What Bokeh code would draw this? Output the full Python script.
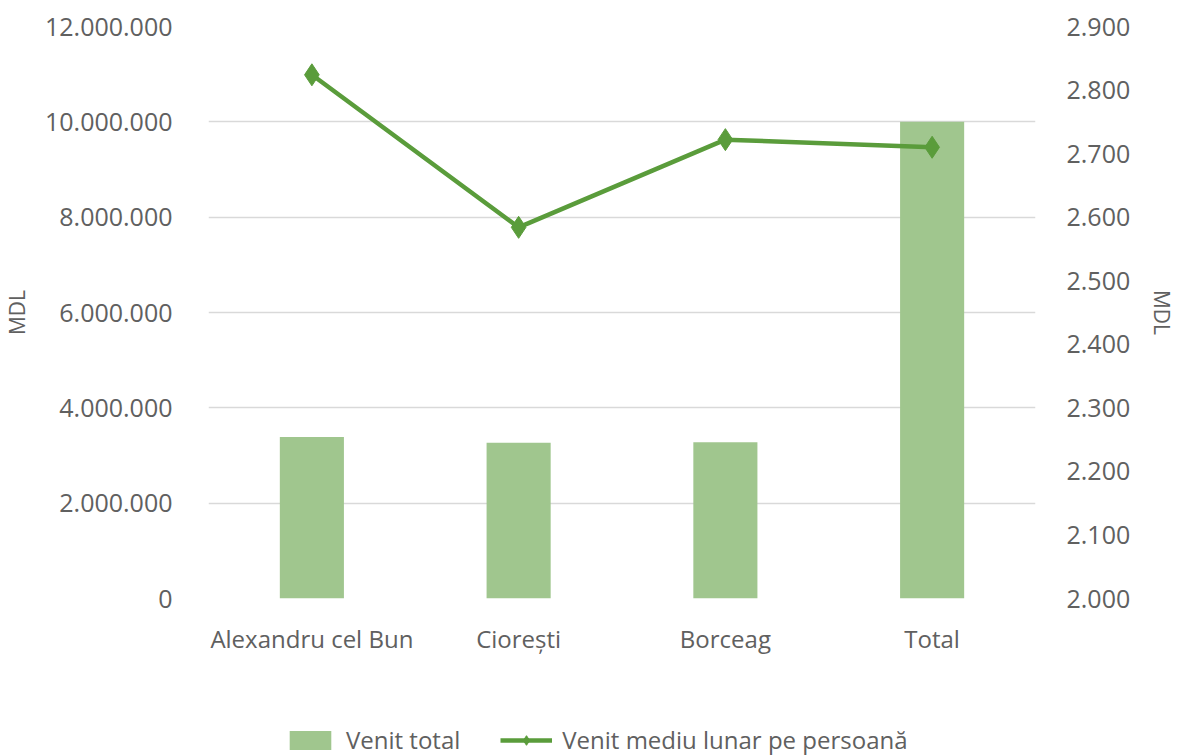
from bokeh.plotting import figure
from bokeh.layouts import column
from bokeh.models import (Range1d, LinearAxis, FactorRange, CustomJSTickFormatter,
                          Legend, LegendItem, ColumnDataSource, FixedTicker)
from bokeh.embed import file_html
from bokeh.resources import INLINE

categories = ["Alexandru cel Bun", "Ciorești", "Borceag", "Total"]
venit_total = [3390000, 3270000, 3280000, 10000000]
venit_mediu = [2824, 2584, 2722, 2710]

left_ticks = [0, 2000000, 4000000, 6000000, 8000000, 10000000, 12000000]
right_ticks = [2000, 2100, 2200, 2300, 2400, 2500, 2600, 2700, 2800, 2900]
series_names = ["Venit total", "Venit mediu lunar pe persoană"]

BAR = "#a0c68e"
LINE = "#5a9c3b"
TXT = "#606060"
FONT = "Open Sans"

src = ColumnDataSource(dict(cat=categories, total=venit_total, mediu=venit_mediu))

p = figure(width=1179, height=722, x_range=FactorRange(*categories, range_padding=0),
           y_range=Range1d(0, 12000000), output_backend="svg", toolbar_location=None,
           min_border_left=208, min_border_right=144, min_border_top=26, min_border_bottom=124)
p.x_range.range_padding = 0
p.extra_y_ranges = {"right": Range1d(2000, 2900)}
p.outline_line_color = None
p.background_fill_color = "white"
p.border_fill_color = "white"

fmt = CustomJSTickFormatter(code="""
return Math.round(tick).toString().replace(/\\B(?=(\\d{3})+(?!\\d))/g, ".");
""")

bars = p.vbar(x="cat", top="total", width=0.31, source=src, fill_color=BAR, line_color=None)
ln = p.line(x="cat", y="mediu", source=src, line_color=LINE, line_width=4.5, y_range_name="right")
mk = p.scatter(x="cat", y="mediu", source=src, marker="diamond", size=22,
               fill_color=LINE, line_color=LINE, y_range_name="right")

ya = p.yaxis[0]
ya.ticker = FixedTicker(ticks=left_ticks)
ya.formatter = fmt
ya.axis_label = "MDL"

ra = LinearAxis(y_range_name="right", ticker=FixedTicker(ticks=right_ticks), formatter=fmt,
                axis_label="MDL")
p.add_layout(ra, "right")

for ax in [ya, ra, p.xaxis[0]]:
    ax.axis_line_color = None
    ax.major_tick_line_color = None
    ax.minor_tick_line_color = None
    ax.major_label_text_font = FONT
    ax.major_label_text_font_size = "25px"
    ax.major_label_text_color = TXT
    ax.axis_label_text_font = FONT
    ax.axis_label_text_font_size = "21px"
    ax.axis_label_text_font_style = "normal"
    ax.axis_label_text_color = TXT

p.xaxis[0].major_label_text_font_size = "24px"
ya.major_label_standoff = 30
ya.axis_label_standoff = 11
ra.major_label_standoff = 25
ra.axis_label_standoff = 15
p.xaxis[0].major_label_standoff = 17

p.xgrid.grid_line_color = None
p.ygrid.grid_line_color = "#d9d9d9"
p.ygrid.grid_line_width = 1.5
p.ygrid.ticker = FixedTicker(ticks=left_ticks)

# legend strip: same data drawn outside the visible range (below it), only the legend shows
lg = figure(width=1179, height=34, output_backend="svg", toolbar_location=None,
            min_border=0, x_range=FactorRange(*categories), y_range=Range1d(5e8, 6e8))
lg.axis.visible = False
lg.grid.visible = False
lg.outline_line_color = None
lb = lg.vbar(x="cat", top="total", width=0.31, source=src, fill_color=BAR, line_color=None)
ll = lg.line(x="cat", y="mediu", source=src, line_color=LINE, line_width=4.5)
lm = lg.scatter(x="cat", y="mediu", source=src, marker="diamond", size=16,
                fill_color=LINE, line_color=LINE)

legend = Legend(items=[LegendItem(label=series_names[0], renderers=[lb]),
                       LegendItem(label=series_names[1], renderers=[ll, lm])],
                orientation="horizontal", location=(76, 0),
                label_text_font=FONT, label_text_font_size="24px", label_text_color=TXT,
                glyph_width=52, glyph_height=24, spacing=40, border_line_color=None,
                background_fill_alpha=0, margin=0, padding=0, label_standoff=10,
                label_height=20)
lg.add_layout(legend, "center")

open("out.html", "w").write(file_html(column(p, lg, spacing=0), INLINE))
